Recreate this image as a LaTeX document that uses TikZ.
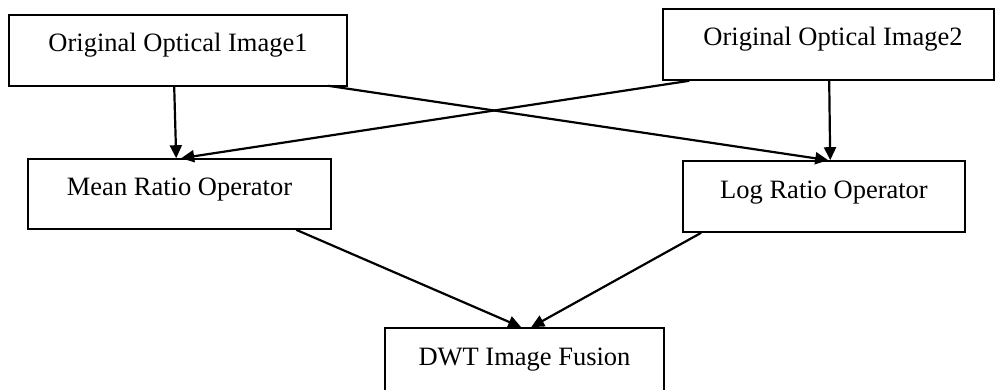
\documentclass[tikz,border=0pt]{standalone}
\usepackage{fontspec}
\setmainfont{Liberation Serif}
\usetikzlibrary{arrows.meta,calc}
\begin{document}
\begin{tikzpicture}[x=1pt,y=-1pt,
  box/.style={draw=black,line width=1.6pt,rectangle,inner sep=0pt,
    font=\fontsize{26.5}{30}\selectfont,text height=18pt,text depth=15pt},
  conn/.style={line width=2.2pt,-{Triangle[length=13pt,width=12pt]}}]
\useasboundingbox (0,0) rectangle (995,390);
\clip (0,0) rectangle (995,390);
\node[box,minimum width=338pt,minimum height=71pt] (b1) at (178,50.5) {Original Optical Image1};
\node[box,minimum width=331pt,minimum height=71pt] (b2) at (828.5,44.5) {\hspace*{9pt}Original Optical Image2};
\node[box,minimum width=303pt,minimum height=70pt] (m) at (179.5,194) {Mean Ratio Operator};
\node[box,minimum width=282pt,minimum height=71pt] (l) at (824,196.5) {Log Ratio Operator};
\node[box,minimum width=279pt,minimum height=71pt] (d) at (524.5,363.5) {DWT Image Fusion};
\draw[conn] ($(b1.south west)+(166,0)$) -- ($(m.north west)+(149,0)$);
\draw[conn] ($(b1.south west)+(320,-1)$) -- ($(l.north west)+(146,0)$);
\draw[conn] ($(b2.south west)+(27,0)$) -- ($(m.north west)+(154,0)$);
\draw[conn] ($(b2.south west)+(167,0)$) -- ($(l.north west)+(148,0)$);
\draw[conn] ($(m.south west)+(269,0)$) -- ($(d.north west)+(137,0)$);
\draw[conn] ($(l.south west)+(19,0)$) -- ($(d.north west)+(147,0)$);
\end{tikzpicture}
\end{document}
